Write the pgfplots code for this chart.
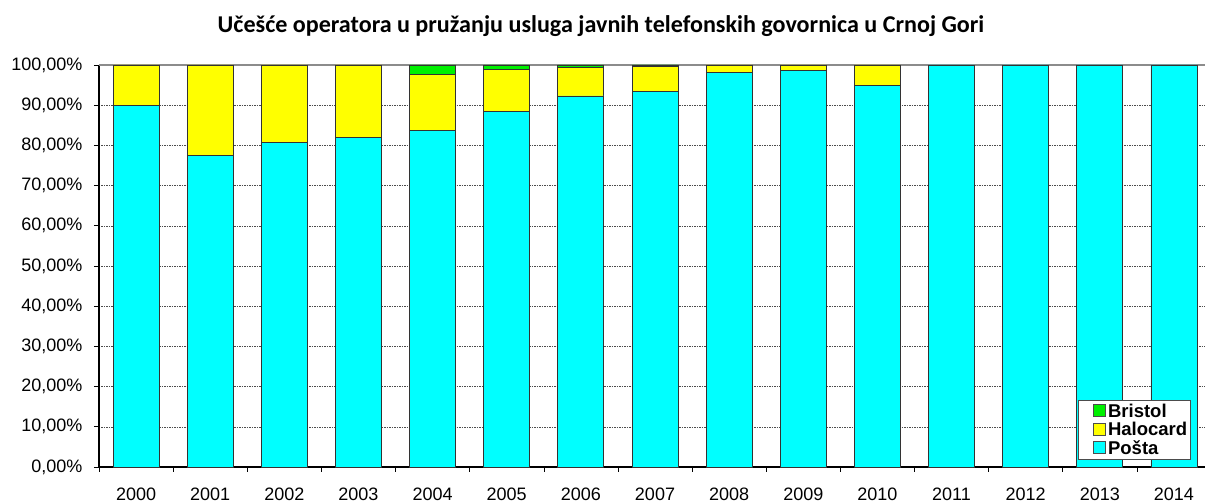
\documentclass[border=0pt]{standalone}
\usepackage{pgfplots}
\pgfplotsset{compat=1.18}
\usepackage{fontspec}
\setmainfont{Liberation Sans}
\newfontfamily\titlefont{Carlito}
\definecolor{cposta}{RGB}{0,255,255}
\definecolor{chalo}{RGB}{255,255,0}
\definecolor{cbris}{RGB}{0,240,0}
\begin{document}
\begin{tikzpicture}[x=1pt,y=1pt]
\useasboundingbox (0,0) rectangle (1205,503);
\node[font=\titlefont\bfseries\fontsize{24.1}{27}\selectfont] at (601,477) {Učešće operatora u pružanju usluga javnih telefonskih govornica u Crnoj Gori};
\begin{axis}[
  at={(99pt,36pt)}, anchor=south west,
  scale only axis, width=1112pt, height=402pt,
  ybar stacked, bar width=46pt,
  xmin=-0.5, xmax=14.5, ymin=0, ymax=100,
  axis x line*=bottom, axis y line*=left,
  axis line style={black, line width=1.2pt},
  xtick={0,...,14},
  xticklabels={2000,2001,2002,2003,2004,2005,2006,2007,2008,2009,2010,2011,2012,2013,2014},
  major x tick style={draw=none},
  minor xtick={-0.5,0.5,...,14.5},
  minor x tick style={black, line width=0.6pt},
  minor tick length=5pt,
  tick align=outside,
  ytick={0,10,...,100},
  yticklabels={{0,00\%},{10,00\%},{20,00\%},{30,00\%},{40,00\%},{50,00\%},{60,00\%},{70,00\%},{80,00\%},{90,00\%},{100,00\%}},
  major tick length=5pt,
  y tick style={black, line width=0.6pt},
  ymajorgrids,
  major grid style={black!70, dash pattern=on 1.5pt off 1pt, line width=0.5pt},
  ticklabel style={font=\fontsize{18}{20}\selectfont},
  xticklabel style={yshift=-12pt},
  yticklabel style={xshift=-8pt},
  reverse legend,
  legend style={at={(0.880,0.0174)}, anchor=south west, draw=black!70, line width=0.6pt,
    font=\bfseries\fontsize{18.5}{19}\selectfont, row sep=-0.5pt, inner sep=1.5pt,
    cells={anchor=west}},
  legend image code/.code={\path (0pt,0pt); \draw[#1, draw=black!70, line width=0.6pt] (14pt,-5pt) rectangle (26pt,7pt);},
  every axis plot/.append style={draw=black!80, line width=0.8pt},
  clip=false,
]
\addplot[fill=cposta] coordinates {(0,90.0) (1,77.6) (2,80.8) (3,82.0) (4,83.8) (5,88.4) (6,92.3) (7,93.5) (8,98.2) (9,98.7) (10,95.0) (11,100) (12,100) (13,100) (14,100)};
\addplot[fill=chalo] coordinates {(0,10.0) (1,22.4) (2,19.2) (3,18.0) (4,13.9) (5,10.6) (6,7.1) (7,6.25) (8,1.8) (9,1.3) (10,5.0) (11,0) (12,0) (13,0) (14,0)};
\addplot[fill=cbris] coordinates {(0,0) (1,0) (2,0) (3,0) (4,2.3) (5,1.0) (6,0.6) (7,0.25) (8,0) (9,0) (10,0) (11,0) (12,0) (13,0) (14,0)};
\legend{Pošta,Halocard,Bristol}
\draw[black!45, line width=1.5pt] (axis cs:-0.5,100) -- (axis cs:14.5,100);
\end{axis}
\end{tikzpicture}
\end{document}
